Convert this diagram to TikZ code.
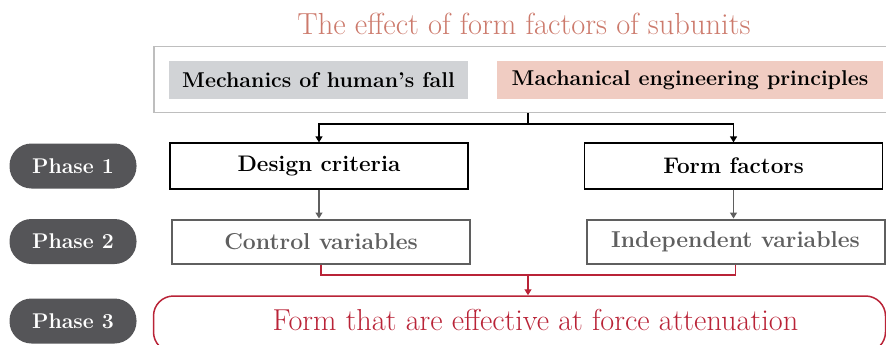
\documentclass[tikz,border=0pt]{standalone}
\usepackage{fontspec}
\usetikzlibrary{arrows.meta}
\definecolor{titlered}{RGB}{204,122,108}
\definecolor{framegray}{RGB}{190,190,190}
\definecolor{mechgray}{RGB}{209,211,214}
\definecolor{princpink}{RGB}{240,204,194}
\definecolor{boxgray}{RGB}{95,95,95}
\definecolor{phasegray}{RGB}{85,85,88}
\definecolor{resred}{RGB}{185,35,55}
\begin{document}
\begin{tikzpicture}[x=1pt, y=-1pt, phase style/.style={rectangle, rounded corners=22pt, fill=phasegray, text=white, minimum width=127pt, minimum height=45pt, font=\bfseries\fontsize{21.3}{25}\selectfont}, base style/.style={rectangle, minimum height=37pt, font=\bfseries\fontsize{21.4}{25}\selectfont}, first style/.style={rectangle, draw, line width=1.2pt, minimum width=298pt, minimum height=46pt, font=\bfseries\fontsize{22.5}{26}\selectfont}, second style/.style={rectangle, draw=boxgray, text=boxgray, line width=2pt, minimum width=298pt, minimum height=44pt, font=\bfseries\fontsize{23}{27}\selectfont}, link/.style={-{Triangle[length=6pt,width=7pt]}, line width=1.2pt}]
	\useasboundingbox (0,0) rectangle (886,345);
	\node[text=titlered, font=\fontsize{30.5}{34}\selectfont] (T) at (524,24) {The effect of form factors of subunits};
	\node[draw=framegray, line width=1.2pt, minimum width=734pt, minimum height=66pt] (F) at (521,79.5) {};
	\node[base style, fill=mechgray, minimum width=299pt] (M) at (318.5,80) {Mechanics of human’s fall};
	\node[base style, fill=princpink, minimum width=386pt] (P) at (690,80) {Machanical engineering principles};
	\node[phase style] (P1) at (73,166) {Phase 1};
	\node[phase style] (P2) at (73,241.5) {Phase 2};
	\node[phase style] (P3) at (73,321) {Phase 3};
	\node[first style] (D) at (319,166) {Design criteria};
	\node[first style] (FF) at (733.5,166) {Form factors};
	\node[second style] (C) at (321,241.5) {Control variables};
	\node[second style] (I) at (735.5,241.5) {Independent variables};
	\node[draw=resred, line width=1.5pt, rounded corners=20pt, minimum width=732pt, minimum height=56pt] (R) at (519.5,324) {};
	\node[text=resred, font=\fontsize{30.3}{34}\selectfont] (RT) at (535.5,320) {Form that are effective at force attenuation};
	\coordinate (split) at (528,124);
	\coordinate (join) at (528,275);
	\draw[line width=1.2pt] (F.south -| split) -- (split);
	\draw[link] (split) -| (D.north);
	\draw[link] (split) -| (FF.north);
	\draw[link, boxgray] (D.south) -- (D.south |- C.north);
	\draw[link, boxgray] (FF.south) -- (FF.south |- I.north);
	\draw[resred, line width=1.5pt] (C.south) |- (join) -| (I.south);
	\draw[link, resred] (join) -- (join |- R.north);
\end{tikzpicture}
\end{document}
